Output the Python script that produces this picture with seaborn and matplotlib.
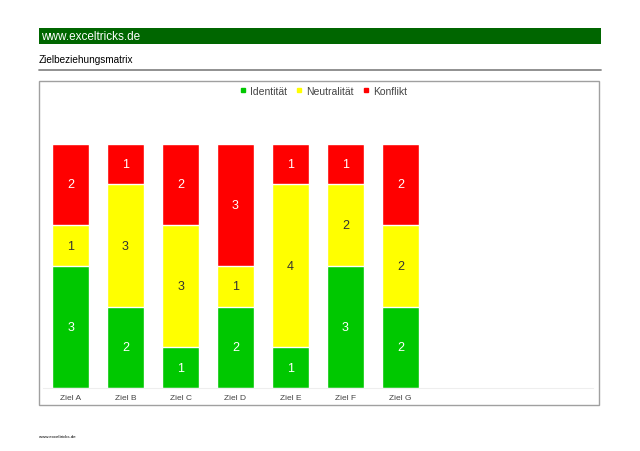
import numpy as np
import pandas as pd
import matplotlib.pyplot as plt
import matplotlib as mpl
import seaborn as sns
from matplotlib.patches import Rectangle
from matplotlib.lines import Line2D

# ==============================
# Data
# ==============================
categories = ["Ziel A", "Ziel B", "Ziel C", "Ziel D", "Ziel E", "Ziel F", "Ziel G"]
identitaet = [3, 2, 1, 2, 1, 3, 2]
neutralitaet = [1, 3, 3, 1, 4, 2, 2]
konflikt = [2, 1, 2, 3, 1, 1, 2]
series_names = ["Identität", "Neutralität", "Konflikt"]

# ==============================
# Styling
# ==============================
sns.set_style("white")
plt.rcParams["font.family"] = ["Liberation Sans", "DejaVu Sans"]

green = "#00C800"
yellow = "#FFFF00"
red = "#FF0000"
header_green = "#006600"

W, H = 640, 452


def fx(px):
    return px / W


def fy(py):
    return 1 - py / H


fig = plt.figure(figsize=(6.4, 4.52), dpi=100)

# header bar + title
fig.add_artist(Rectangle((fx(39), fy(45)), fx(601) - fx(39), fy(29) - fy(45),
                         transform=fig.transFigure, facecolor=header_green, edgecolor="none"))
fig.text(fx(41), fy(37.5), "www.exceltricks.de", color="white", fontsize=8.5, va="center")
fig.text(fx(39), fy(60), "Zielbeziehungsmatrix", color="black", fontsize=7.2, va="center")
fig.add_artist(Line2D([fx(39), fx(601)], [fy(70.5), fy(70.5)], transform=fig.transFigure,
                      color="#888888", lw=1.3))

# chart frame
fig.add_artist(Rectangle((fx(39), fy(406)), fx(599) - fx(39), fy(82) - fy(406),
                         transform=fig.transFigure, facecolor="none", edgecolor="#A0A0A0", lw=1))
fig.text(fx(39), fy(437), "www.exceltricks.de", color="black", fontsize=3.2, va="center")

# plot area
ax = fig.add_axes([fx(43), fy(389), fx(593) - fx(43), fy(104) - fy(389)])

df = pd.DataFrame({
    "Ziel": categories,
    "Identität": identitaet,
    "Neutralität": neutralitaet,
    "Konflikt": konflikt,
})
df["top_neutral"] = df["Identität"] + df["Neutralität"]
df["top_konflikt"] = df["top_neutral"] + df["Konflikt"]

# stacked bars as overlaid cumulative totals
sns.barplot(data=df, x="Ziel", y="top_konflikt", color=red, width=0.66,
            saturation=1, ax=ax, legend=False)
sns.barplot(data=df, x="Ziel", y="top_neutral", color=yellow, width=0.66,
            saturation=1, ax=ax, legend=False)
sns.barplot(data=df, x="Ziel", y="Identität", color=green, width=0.66,
            saturation=1, ax=ax, legend=False)

# segment labels
for i, row in df.iterrows():
    ax.text(i, row["Identität"] / 2, str(row["Identität"]), ha="center", va="center",
            color="white", fontsize=9)
    ax.text(i, row["Identität"] + row["Neutralität"] / 2, str(row["Neutralität"]),
            ha="center", va="center", color="#333333", fontsize=9)
    ax.text(i, row["top_neutral"] + row["Konflikt"] / 2, str(row["Konflikt"]),
            ha="center", va="center", color="white", fontsize=9)

ax.set_xlim(-0.5, 9.5)
ax.set_ylim(0, 7)
ax.set_xlabel("")
ax.set_ylabel("")
ax.set_yticks([])
ax.tick_params(axis="x", length=0, labelsize=6, labelcolor="#444444", pad=4)
for side in ["top", "right", "left"]:
    ax.spines[side].set_visible(False)
ax.spines["bottom"].set_color("#EEEEEE")
ax.spines["bottom"].set_linewidth(0.8)
ax.patch.set_alpha(0)
if ax.get_legend() is not None:
    ax.get_legend().remove()

# legend
handles = [Line2D([], [], marker="s", linestyle="none", markersize=3.5, color=c)
           for c in [green, yellow, red]]
fig.legend(handles, series_names, loc="center", bbox_to_anchor=(fx(322), fy(92)),
           ncol=3, frameon=False, fontsize=7.5, handletextpad=0.05, columnspacing=0.6,
           handlelength=1.2, labelcolor="#444444")

fig.savefig("out.png", dpi=100)
